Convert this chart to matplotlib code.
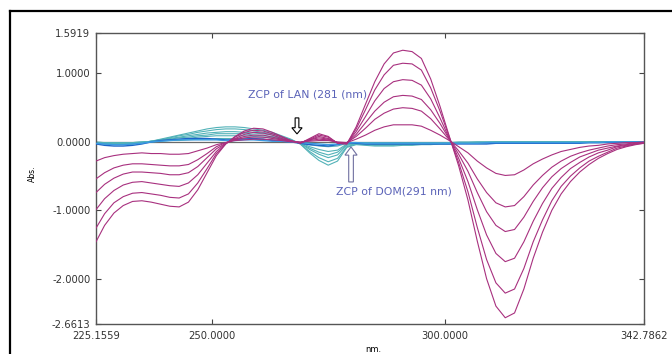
import matplotlib
matplotlib.use("Agg")
import matplotlib.pyplot as plt
from matplotlib.lines import Line2D
from matplotlib.patches import FancyArrow

# wavelength grid (nm), values every 2 nm
wavelength = [225.1559] + list(range(227, 343, 2)) + [342.7862]

# magenta family (largest to smallest)
mag_1 = [-1.46, -1.22, -1.04, -0.93, -0.87, -0.86, -0.88, -0.91, -0.94, -0.95,
         -0.88, -0.70, -0.45, -0.20, -0.03, 0.08, 0.16, 0.20, 0.19, 0.14,
         0.08, 0.02, -0.02, 0.05, 0.12, 0.08, -0.02, -0.03, 0.22, 0.55,
         0.88, 1.14, 1.30, 1.34, 1.32, 1.22, 0.92, 0.52, 0.08, -0.35,
         -0.85, -1.45, -2.00, -2.40, -2.57, -2.50, -2.15, -1.70, -1.32, -1.00,
         -0.76, -0.58, -0.44, -0.33, -0.24, -0.17, -0.11, -0.07, -0.04, -0.02]
mag_2 = [-1.26, -1.05, -0.89, -0.80, -0.75, -0.74, -0.76, -0.78, -0.81, -0.82,
         -0.76, -0.60, -0.39, -0.17, -0.03, 0.07, 0.14, 0.17, 0.16, 0.12,
         0.07, 0.02, -0.02, 0.04, 0.10, 0.07, -0.02, -0.03, 0.19, 0.47,
         0.76, 0.98, 1.12, 1.15, 1.14, 1.05, 0.79, 0.45, 0.07, -0.30,
         -0.73, -1.25, -1.72, -2.06, -2.21, -2.15, -1.85, -1.46, -1.14, -0.86,
         -0.65, -0.50, -0.38, -0.28, -0.21, -0.15, -0.09, -0.06, -0.03, -0.02]
mag_3 = [-0.99, -0.83, -0.71, -0.63, -0.59, -0.58, -0.60, -0.62, -0.64, -0.65,
         -0.60, -0.48, -0.31, -0.14, -0.02, 0.05, 0.11, 0.14, 0.13, 0.10,
         0.05, 0.01, -0.01, 0.03, 0.08, 0.05, -0.01, -0.02, 0.15, 0.37,
         0.60, 0.78, 0.88, 0.91, 0.90, 0.83, 0.63, 0.35, 0.05, -0.24,
         -0.58, -0.99, -1.36, -1.63, -1.75, -1.70, -1.46, -1.16, -0.90, -0.68,
         -0.52, -0.39, -0.30, -0.22, -0.16, -0.12, -0.07, -0.05, -0.03, -0.01]
mag_4 = [-0.74, -0.62, -0.53, -0.47, -0.44, -0.44, -0.45, -0.46, -0.48, -0.48,
         -0.45, -0.36, -0.23, -0.10, -0.02, 0.04, 0.08, 0.10, 0.10, 0.07,
         0.04, 0.01, -0.01, 0.03, 0.06, 0.04, -0.01, -0.02, 0.11, 0.28,
         0.45, 0.58, 0.66, 0.68, 0.67, 0.62, 0.47, 0.27, 0.04, -0.18,
         -0.43, -0.74, -1.02, -1.22, -1.31, -1.28, -1.10, -0.87, -0.67, -0.51,
         -0.39, -0.30, -0.22, -0.17, -0.12, -0.09, -0.06, -0.04, -0.02, -0.01]
mag_5 = [-0.54, -0.45, -0.38, -0.34, -0.32, -0.32, -0.33, -0.34, -0.35, -0.35,
         -0.33, -0.26, -0.17, -0.07, -0.01, 0.03, 0.06, 0.07, 0.07, 0.05,
         0.03, 0.01, -0.01, 0.02, 0.04, 0.03, -0.01, -0.01, 0.08, 0.20,
         0.33, 0.42, 0.48, 0.50, 0.49, 0.45, 0.34, 0.19, 0.03, -0.13,
         -0.31, -0.54, -0.74, -0.89, -0.95, -0.93, -0.80, -0.63, -0.49, -0.37,
         -0.28, -0.21, -0.16, -0.12, -0.09, -0.06, -0.04, -0.03, -0.01, -0.01]
mag_6 = [-0.28, -0.23, -0.20, -0.18, -0.17, -0.16, -0.17, -0.17, -0.18, -0.18,
         -0.17, -0.13, -0.09, -0.04, -0.01, 0.02, 0.03, 0.04, 0.04, 0.03,
         0.02, 0.00, 0.00, 0.01, 0.02, 0.02, 0.00, -0.01, 0.04, 0.10,
         0.17, 0.22, 0.25, 0.25, 0.25, 0.23, 0.17, 0.10, 0.02, -0.07,
         -0.16, -0.28, -0.38, -0.46, -0.49, -0.48, -0.41, -0.32, -0.25, -0.19,
         -0.14, -0.11, -0.08, -0.06, -0.05, -0.03, -0.02, -0.01, -0.01, 0.00]

# teal family
teal_1 = [-0.02, -0.03, -0.04, -0.04, -0.03, -0.01, 0.01, 0.04, 0.07, 0.10,
          0.13, 0.16, 0.19, 0.21, 0.22, 0.22, 0.21, 0.19, 0.17, 0.14,
          0.09, 0.04, -0.03, -0.16, -0.27, -0.34, -0.28, -0.08, -0.04, -0.05,
          -0.06, -0.06, -0.06, -0.05, -0.05, -0.04, -0.04, -0.03, -0.03, -0.02,
          -0.02, -0.01, -0.01, -0.01, 0, 0, 0, 0, 0, 0,
          0, 0, 0, 0, 0, 0, 0, 0, 0, 0]
teal_2 = [-0.02, -0.03, -0.03, -0.03, -0.03, -0.01, 0.01, 0.03, 0.06, 0.09,
          0.11, 0.14, 0.16, 0.18, 0.19, 0.19, 0.18, 0.16, 0.14, 0.12,
          0.08, 0.03, -0.03, -0.14, -0.23, -0.29, -0.24, -0.07, -0.03, -0.04,
          -0.05, -0.05, -0.05, -0.04, -0.04, -0.03, -0.03, -0.03, -0.03, -0.02,
          -0.02, -0.01, -0.01, -0.01, 0, 0, 0, 0, 0, 0,
          0, 0, 0, 0, 0, 0, 0, 0, 0, 0]
teal_3 = [-0.01, -0.02, -0.03, -0.03, -0.02, -0.01, 0.01, 0.03, 0.05, 0.07,
          0.09, 0.11, 0.13, 0.14, 0.15, 0.15, 0.14, 0.13, 0.12, 0.10,
          0.06, 0.03, -0.02, -0.11, -0.18, -0.23, -0.19, -0.05, -0.03, -0.03,
          -0.04, -0.04, -0.04, -0.03, -0.03, -0.03, -0.03, -0.02, -0.02, -0.01,
          -0.01, -0.01, -0.01, 0, 0, 0, 0, 0, 0, 0,
          0, 0, 0, 0, 0, 0, 0, 0, 0, 0]
teal_4 = [-0.01, -0.02, -0.02, -0.02, -0.02, -0.01, 0.01, 0.02, 0.04, 0.06,
          0.07, 0.09, 0.10, 0.12, 0.12, 0.12, 0.12, 0.10, 0.09, 0.08,
          0.05, 0.02, -0.02, -0.09, -0.15, -0.19, -0.15, -0.04, -0.02, -0.03,
          -0.03, -0.03, -0.03, -0.03, -0.03, -0.02, -0.02, -0.02, -0.02, -0.01,
          -0.01, -0.01, -0.01, 0, 0, 0, 0, 0, 0, 0,
          0, 0, 0, 0, 0, 0, 0, 0, 0, 0]
teal_5 = [-0.01, -0.01, -0.02, -0.02, -0.01, 0.00, 0.00, 0.02, 0.03, 0.04,
          0.05, 0.07, 0.08, 0.09, 0.09, 0.09, 0.09, 0.08, 0.07, 0.06,
          0.04, 0.02, -0.01, -0.07, -0.11, -0.14, -0.12, -0.03, -0.02, -0.02,
          -0.03, -0.03, -0.03, -0.02, -0.02, -0.02, -0.02, -0.01, -0.01, -0.01,
          -0.01, 0, 0, 0, 0, 0, 0, 0, 0, 0,
          0, 0, 0, 0, 0, 0, 0, 0, 0, 0]
teal_6 = [0.00, -0.01, -0.01, -0.01, -0.01, 0.00, 0.00, 0.01, 0.02, 0.02,
          0.03, 0.04, 0.04, 0.05, 0.05, 0.05, 0.05, 0.04, 0.04, 0.03,
          0.02, 0.01, -0.01, -0.04, -0.06, -0.07, -0.06, -0.02, -0.01, -0.01,
          -0.01, -0.01, -0.01, -0.01, -0.01, -0.01, -0.01, -0.01, -0.01, 0,
          0, 0, 0, 0, 0, 0, 0, 0, 0, 0,
          0, 0, 0, 0, 0, 0, 0, 0, 0, 0]

# blue curves close to zero
blue_1 = [-0.03, -0.05, -0.06, -0.06, -0.05, -0.03, 0.00, 0.02, 0.03, 0.04,
          0.05, 0.05, 0.05, 0.04, 0.03, 0.03, 0.04, 0.05, 0.04, 0.02,
          0.01, 0.00, -0.02, -0.04, -0.05, -0.06, -0.04, -0.01, -0.02, -0.03,
          -0.03, -0.03, -0.03, -0.03, -0.03, -0.03, -0.03, -0.03, -0.03, -0.03,
          -0.03, -0.03, -0.03, -0.02, -0.02, -0.02, -0.02, -0.02, -0.02, -0.02,
          -0.02, -0.02, -0.02, -0.01, -0.01, -0.01, -0.01, -0.01, 0.00, 0.00]
blue_2 = [-0.02, -0.03, -0.04, -0.04, -0.03, -0.02, 0.00, 0.01, 0.02, 0.03,
          0.03, 0.03, 0.03, 0.03, 0.02, 0.02, 0.03, 0.03, 0.02, 0.01,
          0.01, 0.00, -0.01, -0.02, -0.03, -0.04, -0.03, -0.01, -0.01, -0.02,
          -0.02, -0.02, -0.02, -0.02, -0.02, -0.02, -0.02, -0.02, -0.02, -0.02,
          -0.02, -0.02, -0.01, -0.01, -0.01, -0.01, -0.01, -0.01, -0.01, -0.01,
          -0.01, -0.01, -0.01, -0.01, -0.01, 0.00, 0.00, 0.00, 0.00, 0.00]

magenta = [mag_1, mag_2, mag_3, mag_4, mag_5, mag_6]
teal = [teal_1, teal_2, teal_3, teal_4, teal_5, teal_6]
blue = [blue_1, blue_2]

x_ticks = [225.1559, 250.0, 300.0, 342.7862]
x_labels = ["225.1559", "250.0000", "300.0000", "342.7862"]
y_ticks = [1.5919, 1.0, 0.0, -1.0, -2.0, -2.6613]
y_labels = ["1.5919", "1.0000", "0.0000", "-1.0000", "-2.0000", "-2.6613"]

fig = plt.figure(figsize=(6.72, 3.54), dpi=100)
ax = fig.add_axes([96 / 672, 1 - 324 / 354, 548 / 672, 291 / 354])

# zero baseline
ax.axhline(0, color="#6a6a6a", lw=0.9, zorder=1)

for curve in teal:
    ax.plot(wavelength, curve, color="#52b2b8", lw=0.8, zorder=2)
for curve, col in zip(blue, ["#1d63c8", "#3a9ae0"]):
    ax.plot(wavelength, curve, color=col, lw=1.0, zorder=3)
for curve in magenta:
    ax.plot(wavelength, curve, color="#a8307f", lw=0.8, zorder=4)

ax.set_xlim(225.1559, 342.7862)
ax.set_ylim(-2.6613, 1.5919)
ax.set_xticks(x_ticks)
ax.set_xticklabels(x_labels)
ax.set_yticks(y_ticks)
ax.set_yticklabels(y_labels)
ax.tick_params(direction="in", length=3.5, width=0.8, color="#444444",
               labelsize=7.2, labelcolor="#333333", top=True, right=True)
ax.tick_params(axis="x", pad=5)
ax.tick_params(axis="y", pad=4)
for s in ax.spines.values():
    s.set_color("#555555")
    s.set_linewidth(1.0)

# zero crossing annotations
ax.text(257.78, 0.687, "ZCP of LAN (281 (nm)", color="#5b63b8", fontsize=7.8,
        ha="left", va="center")
ax.text(276.67, -0.731, "ZCP of DOM(291 nm)", color="#5b63b8", fontsize=7.8,
        ha="left", va="center")
ax.add_patch(FancyArrow(268.3, 0.351, 0, -0.234, width=0.8, head_width=2.2,
                        head_length=0.09, length_includes_head=True,
                        fc="white", ec="black", lw=0.8, zorder=6))
ax.add_patch(FancyArrow(279.9, -0.585, 0, 0.512, width=1.0, head_width=2.6,
                        head_length=0.12, length_includes_head=True,
                        fc="white", ec="#7070a0", lw=0.8, zorder=6))

fig.text(32 / 672, 1 - 174 / 354, "Abs.", rotation=90, fontsize=5.5,
         ha="center", va="center")
fig.text(373 / 672, 1 - 349 / 354, "nm.", fontsize=6, ha="center", va="center")

# outer frame
fig.add_artist(Line2D([10 / 672, 10 / 672], [0, 1 - 11 / 354],
                      transform=fig.transFigure, color="black", lw=1.6))
fig.add_artist(Line2D([10 / 672, 1], [1 - 11 / 354, 1 - 11 / 354],
                      transform=fig.transFigure, color="black", lw=1.6))

fig.savefig("out.png", dpi=100)
